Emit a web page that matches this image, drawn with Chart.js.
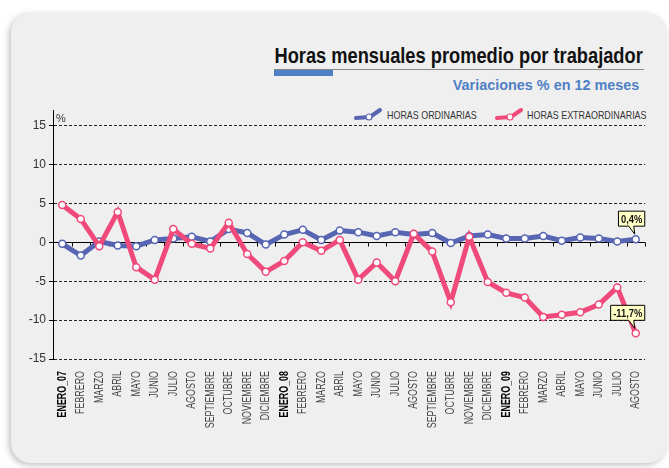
<!DOCTYPE html>
<html>
<head>
<meta charset="utf-8">
<script src="https://cdn.jsdelivr.net/npm/chart.js@4.4.0/dist/chart.umd.min.js"></script>
<style>
  html, body { margin: 0; padding: 0; background: #fff; }
  body { width: 669px; height: 468px; position: relative; overflow: hidden;
         font-family: "Liberation Sans", Arial, sans-serif; }
  #card { position: absolute; left: 11px; top: 13px; width: 656px; height: 450px;
          background: #efefef; border-radius: 20px;
          box-shadow: -2px 2px 6px rgba(0,0,0,0.25); }
  #title { position: absolute; right: 26px; top: 43px; font-size: 22px; font-weight: bold;
           color: #111; white-space: nowrap; transform: scaleX(0.83); transform-origin: right center; }
  #rule { position: absolute; left: 274px; top: 69px; width: 370px; height: 1px; background: #888; }
  #bar { position: absolute; left: 274px; top: 70px; width: 59px; height: 6px; background: #4f7fc4; }
  #subtitle { position: absolute; right: 30px; top: 76px; font-size: 15px; font-weight: bold;
              color: #4f80c6; white-space: nowrap; transform: scaleX(0.96); transform-origin: right center; }
  .leg { position: absolute; top: 108px; font-size: 10.5px; color: #333; white-space: nowrap; }
  .leg svg { position: absolute; left: 0; top: -1px; }
  .leg span { position: absolute; top: 1px; transform: scaleX(0.85); transform-origin: left center; }
  #chart { position: absolute; left: 0; top: 0; }
</style>
</head>
<body>
<div id="card"></div>
<div id="title">Horas mensuales promedio por trabajador</div>
<div id="rule"></div>
<div id="bar"></div>
<div id="subtitle">Variaciones % en 12 meses</div>
<div class="leg" style="left:353px">
  <svg width="30" height="14"><path d="M3,11 L17,10 L27,3" stroke="#5865b3" stroke-width="4" fill="none" stroke-linecap="round"/><circle cx="16" cy="10" r="3" fill="#fff" stroke="#5865b3" stroke-width="1.2"/></svg>
  <span style="left:34px">HORAS ORDINARIAS</span>
</div>
<div class="leg" style="left:494px">
  <svg width="30" height="14"><path d="M3,11 L17,10 L27,3" stroke="#ef4a7a" stroke-width="4" fill="none" stroke-linecap="round"/><circle cx="16" cy="10" r="3" fill="#fff" stroke="#ef4a7a" stroke-width="1.2"/></svg>
  <span style="left:33px">HORAS EXTRAORDINARIAS</span>
</div>
<canvas id="chart" width="669" height="468"></canvas>
<script>
// Meses (ene 2007 - ago 2009)
const months = [
  'ENERO_07', 'FEBRERO', 'MARZO', 'ABRIL', 'MAYO', 'JUNIO', 'JULIO', 'AGOSTO',
  'SEPTIEMBRE', 'OCTUBRE', 'NOVIEMBRE', 'DICIEMBRE',
  'ENERO_08', 'FEBRERO', 'MARZO', 'ABRIL', 'MAYO', 'JUNIO', 'JULIO', 'AGOSTO',
  'SEPTIEMBRE', 'OCTUBRE', 'NOVIEMBRE', 'DICIEMBRE',
  'ENERO_09', 'FEBRERO', 'MARZO', 'ABRIL', 'MAYO', 'JUNIO', 'JULIO', 'AGOSTO'
];

// Horas ordinarias (var. % 12 meses)
const ordinarias = [
  -0.2, -1.7, 0.1, -0.4, -0.5, 0.3, 0.5, 0.7, 0.1, 1.7, 1.2, -0.3,
  1.0, 1.6, 0.3, 1.5, 1.3, 0.8, 1.3, 1.0, 1.2, -0.1, 0.8, 1.0,
  0.5, 0.5, 0.8, 0.2, 0.6, 0.5, 0.1, 0.4
];

// Horas extraordinarias (var. % 12 meses)
const extraordinarias = [
  4.8, 3.0, -0.5, 3.9, -3.2, -4.8, 1.7, -0.2, -0.8, 2.5, -1.5, -3.8,
  -2.4, 0.0, -1.1, 0.3, -4.8, -2.6, -5.0, 1.1, -1.2, -7.7, 0.7, -5.1,
  -6.5, -7.1, -9.6, -9.3, -9.0, -8.0, -5.8, -11.7
];

const yTicks = [-15, -10, -5, 0, 5, 10, 15];

// etiquetas de los ultimos valores: [dataset, indice, texto]
const callouts = [
  [1, 31, '0,4%'],
  [0, 31, '-11,7%']
];

const FONT = '"Liberation Sans", Arial, sans-serif';
const BLUE = '#5865b3';
const RED = '#ef4a7a';
const NARROW = 0.74; // la fuente original es condensada

// linea del cero, marcas, "%", meses y etiquetas
const extrasPlugin = {
  id: 'extras',
  beforeDatasetsDraw(chart) {
    const { ctx, chartArea, scales: { x, y } } = chart;
    const y0 = Math.round(y.getPixelForValue(0)) + 0.5;
    ctx.save();
    ctx.strokeStyle = '#000';
    ctx.lineWidth = 1;
    ctx.beginPath();
    ctx.moveTo(chartArea.left, y0);
    ctx.lineTo(chartArea.right, y0);
    const step = x.getPixelForValue(1) - x.getPixelForValue(0);
    for (let i = 0; i <= months.length; i++) {
      const px = Math.round(x.getPixelForValue(i) - step / 2) + 0.5;
      ctx.moveTo(px, y0);
      ctx.lineTo(px, y0 + 4);
    }
    ctx.stroke();
    ctx.fillStyle = '#333';
    ctx.font = '11px ' + FONT;
    ctx.textBaseline = 'top';
    ctx.fillText('%', chartArea.left + 3, chartArea.top + 3);

    // meses en vertical, condensados
    months.forEach((m, i) => {
      const bold = m.startsWith('ENERO');
      ctx.save();
      ctx.translate(x.getPixelForValue(i), chartArea.bottom + 12);
      ctx.rotate(-Math.PI / 2);
      ctx.scale(NARROW, 1);
      ctx.font = (bold ? 'bold ' : '') + '12px ' + FONT;
      ctx.fillStyle = bold ? '#000' : '#444';
      ctx.textAlign = 'right';
      ctx.textBaseline = 'middle';
      ctx.fillText(m, 0, 0);
      ctx.restore();
    });
    ctx.restore();
  },
  afterDatasetsDraw(chart) {
    const { ctx } = chart;
    ctx.save();
    ctx.font = 'bold 11px ' + FONT;
    callouts.forEach(([ds, idx, text]) => {
      const pt = chart.getDatasetMeta(ds).data[idx];
      const tw = ctx.measureText(text).width * 0.85;
      const w = tw + 5;
      const right = pt.x + 9;
      const left = right - w;
      const bottom = pt.y - 13;
      const top = bottom - 15;
      ctx.fillStyle = '#ffffc6';
      ctx.strokeStyle = '#000';
      ctx.lineWidth = 1;
      ctx.beginPath();
      ctx.moveTo(left, top);
      ctx.lineTo(right, top);
      ctx.lineTo(right, bottom);
      ctx.lineTo(pt.x - 2, bottom);
      ctx.lineTo(pt.x - 1, pt.y - 5);
      ctx.lineTo(pt.x - 7, bottom);
      ctx.lineTo(left, bottom);
      ctx.closePath();
      ctx.fill();
      ctx.stroke();
      ctx.save();
      ctx.translate((left + right) / 2, (top + bottom) / 2 + 1);
      ctx.scale(0.85, 1);
      ctx.fillStyle = '#111';
      ctx.textAlign = 'center';
      ctx.textBaseline = 'middle';
      ctx.fillText(text, 0, 0);
      ctx.restore();
    });
    ctx.restore();
  }
};

new Chart(document.getElementById('chart'), {
  type: 'line',
  data: {
    labels: months,
    datasets: [
      {
        label: 'HORAS EXTRAORDINARIAS',
        data: extraordinarias,
        borderColor: RED,
        borderWidth: 5,
        pointRadius: 3.5,
        pointBorderWidth: 1.5,
        pointBackgroundColor: '#fff',
        pointBorderColor: RED,
        tension: 0
      },
      {
        label: 'HORAS ORDINARIAS',
        data: ordinarias,
        borderColor: BLUE,
        borderWidth: 5,
        pointRadius: 3.5,
        pointBorderWidth: 1.5,
        pointBackgroundColor: '#fff',
        pointBorderColor: BLUE,
        tension: 0
      }
    ]
  },
  options: {
    responsive: false,
    animation: false,
    devicePixelRatio: 1,
    layout: { padding: { top: 110, right: 24, left: 0, bottom: 0 } },
    plugins: {
      legend: { display: false },
      tooltip: { enabled: false }
    },
    scales: {
      x: {
        offset: true,
        grid: { display: false, drawTicks: false },
        border: { display: false },
        afterFit(scale) { scale.height = 109; },
        ticks: { display: false, autoSkip: false }
      },
      y: {
        min: -15,
        max: 17,
        afterBuildTicks(scale) { scale.ticks = yTicks.map(v => ({ value: v })); },
        afterFit(scale) { scale.width = 53; },
        border: { display: true, color: '#000', width: 1, dash: [3, 2] },
        grid: {
          color: ctx => (ctx.tick && ctx.tick.value === 0) ? 'rgba(0,0,0,0)' : '#222',
          tickColor: '#000',
          tickLength: 4
        },
        ticks: {
          padding: 3,
          color: '#333',
          font: { family: FONT, size: 12 }
        }
      }
    }
  },
  plugins: [extrasPlugin]
});
</script>
</body>
</html>
